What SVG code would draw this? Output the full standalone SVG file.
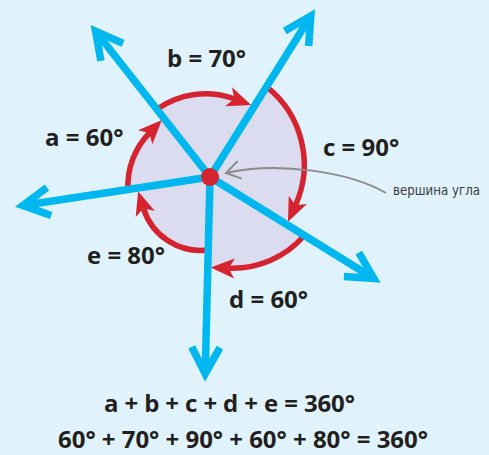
<svg xmlns="http://www.w3.org/2000/svg" width="489" height="455" viewBox="0 0 489 455">
  <defs>
    <style>
      .ray { fill: none; stroke: #00b7ef; stroke-width: 7.5; stroke-linecap: butt; marker-end: url(#chev); }
      .arc { fill: none; stroke: #d5232f; stroke-width: 5.5; stroke-linecap: butt; marker-end: url(#redhead); }
      .lbl { font-family: "Open Sans", "Liberation Sans", sans-serif; font-weight: 700; font-size: 24px; fill: #231f20; }
      .note { font-family: "DejaVu Sans Condensed", "DejaVu Sans", sans-serif; font-stretch: condensed; font-size: 13.5px; fill: #3a3a3a; }
    </style>
    <marker id="chev" markerUnits="userSpaceOnUse" orient="auto" viewBox="-35 -25 45 50" markerWidth="45" markerHeight="50" refX="0" refY="0">
      <path d="M-26.5,-14.1 L0,0 L-26.5,14.1" fill="none" stroke="#00b7ef" stroke-width="7.5" stroke-linejoin="miter"/>
    </marker>
    <marker id="redhead" markerUnits="userSpaceOnUse" orient="auto" viewBox="-1 -12 27 24" markerWidth="27" markerHeight="24" refX="6" refY="0">
      <path d="M0,-10 L24,0 L0,10 L6,0 Z" fill="#d5232f"/>
    </marker>
    <marker id="grayhead" markerUnits="userSpaceOnUse" orient="auto" viewBox="-18 -12 22 24" markerWidth="22" markerHeight="24" refX="0" refY="0">
      <path d="M-14,-9 L0,0 L-14,9" fill="none" stroke="#8a8a8a" stroke-width="2"/>
    </marker>
  </defs>

  <rect id="background" x="0" y="0" width="489" height="455" fill="#e0f3fc"/>

  <g id="angle-region">
    <path d="M127.95,189.55 A76,76 0 0 1 165.87,120.11 L157.29,109.05 A84,84 0 0 1 252.92,108.31 L266.44,86.68 A99,99 0 0 1 284.79,223.37 L304.34,235.49 A95,95 0 0 1 207.85,264.97 L208.22,249.98 A60,60 0 0 1 140.81,187.59 Z" fill="#dcdcf0"/>
  </g>

  <g id="angle-arcs">
    <path id="arc-a" class="arc" d="M127.95,189.55 A76,76 0 0 1 149.36,132.96"/>
    <path id="arc-b" class="arc" d="M157.29,109.05 A84,84 0 0 1 234.27,98.77"/>
    <path id="arc-c" class="arc" d="M266.44,86.68 A99,99 0 0 1 295.41,205.30"/>
    <path id="arc-d" class="arc" d="M304.34,235.49 A95,95 0 0 1 228.57,268.15"/>
    <path id="arc-e" class="arc" d="M208.22,249.98 A60,60 0 0 1 143.47,208.31"/>
  </g>

  <g id="pointer">
    <path d="M386,193 C350,172 278,161 226,173" fill="none" stroke="#8a8a8a" stroke-width="2" marker-end="url(#grayhead)"/>
  </g>

  <g id="connectors">
    <path class="ray" d="M210,177 L95.6,31.3"/>
    <path class="ray" d="M210,177 L310.8,16.1"/>
    <path class="ray" d="M210,177 L22.9,205.5"/>
    <path class="ray" d="M210,177 L373.9,278.5"/>
    <path class="ray" d="M210,177 L205.2,373.7"/>
  </g>

  <g id="vertex">
    <circle cx="210" cy="177" r="9" fill="#d5232f"/>
  </g>

  <g id="labels">
    <text id="label-a" class="lbl" x="45" y="146">a = 60°</text>
    <text id="label-b" class="lbl" x="167" y="67">b = 70°</text>
    <text id="label-c" class="lbl" x="323" y="156">c = 90°</text>
    <text id="label-d" class="lbl" x="229" y="308">d = 60°</text>
    <text id="label-e" class="lbl" x="87" y="264">e = 80°</text>
    <text id="label-vertex" class="note" x="393" y="195" textLength="87" lengthAdjust="spacingAndGlyphs">вершина угла</text>
    <text id="sum-1" class="lbl" x="104" y="412" textLength="251">a + b + c + d + e = 360°</text>
    <text id="sum-2" class="lbl" x="58" y="448" textLength="370">60° + 70° + 90° + 60° + 80° = 360°</text>
  </g>
</svg>
